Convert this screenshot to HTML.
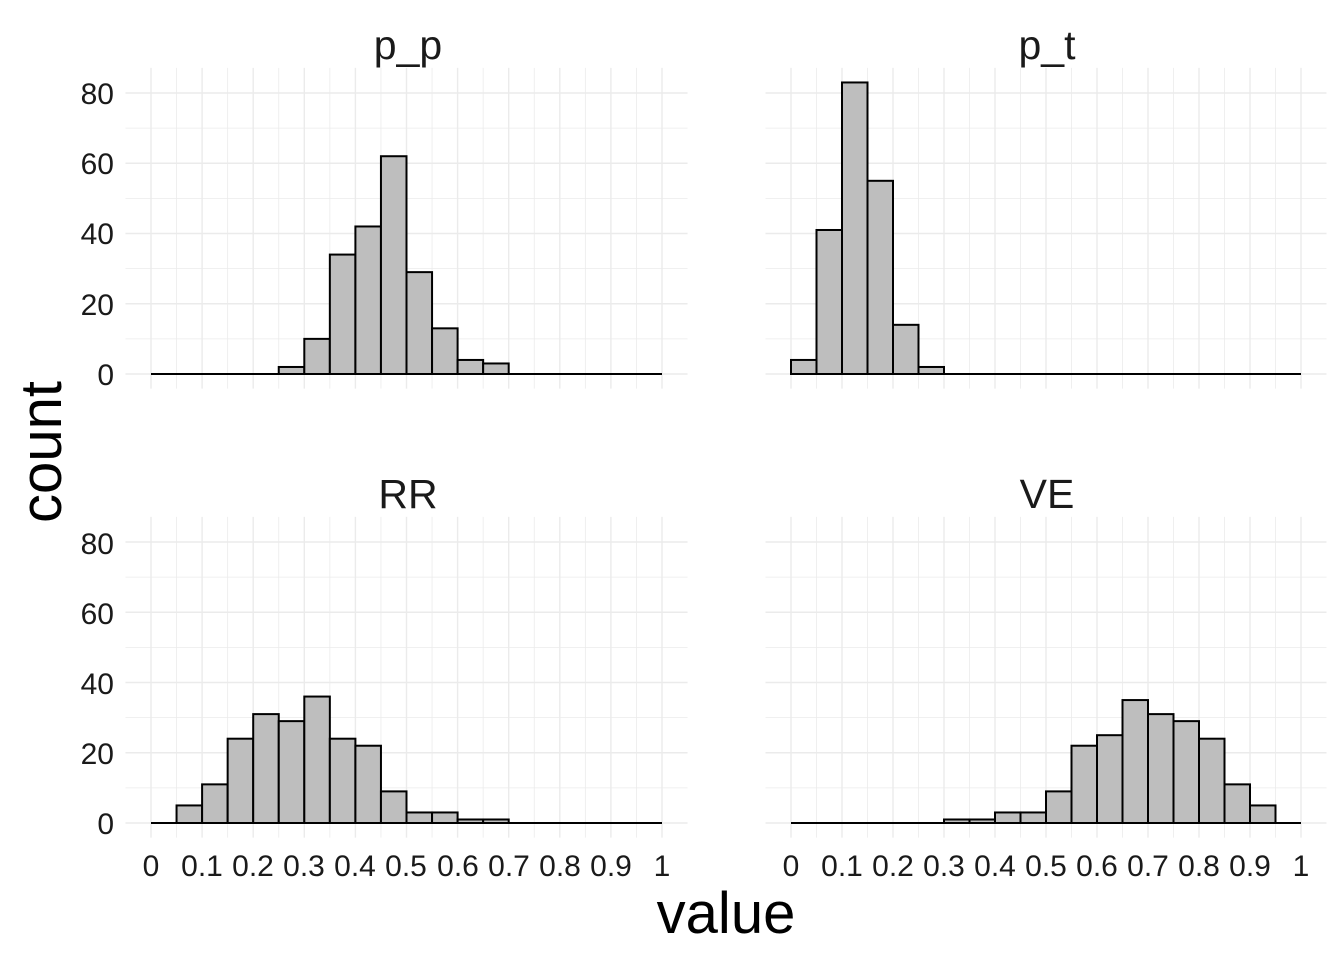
<!DOCTYPE html>
<html><head><style>
html,body{margin:0;padding:0;background:#fff;}
svg{display:block;font-family:"Liberation Sans",Arial,sans-serif;}
</style></head><body>
<svg id="s" width="1344" height="960" viewBox="0 0 1344 960" xmlns="http://www.w3.org/2000/svg">
<rect width="1344" height="960" fill="#fff"/>
<g id="grid"></g>
<g id="bars" fill="#bebebe" stroke="#000" stroke-width="2"></g>
<g font-size="30" fill="#1a1a1a" text-anchor="end">
<text x="114" y="104">80</text><text x="114" y="174">60</text><text x="114" y="244">40</text><text x="114" y="315">20</text><text x="114" y="385">0</text>
<text x="114" y="554">80</text><text x="114" y="624">60</text><text x="114" y="694">40</text><text x="114" y="764">20</text><text x="114" y="834">0</text>
</g>
<g font-size="30" fill="#1a1a1a" text-anchor="middle">
<text x="151" y="876">0</text>
<text x="202" y="876">0.1</text>
<text x="253" y="876">0.2</text>
<text x="304" y="876">0.3</text>
<text x="355" y="876">0.4</text>
<text x="406" y="876">0.5</text>
<text x="458" y="876">0.6</text>
<text x="509" y="876">0.7</text>
<text x="560" y="876">0.8</text>
<text x="611" y="876">0.9</text>
<text x="662" y="876">1</text>
<text x="791" y="876">0</text>
<text x="842" y="876">0.1</text>
<text x="893" y="876">0.2</text>
<text x="944" y="876">0.3</text>
<text x="995" y="876">0.4</text>
<text x="1046" y="876">0.5</text>
<text x="1097" y="876">0.6</text>
<text x="1148" y="876">0.7</text>
<text x="1199" y="876">0.8</text>
<text x="1250" y="876">0.9</text>
<text x="1301" y="876">1</text>
</g>
<g font-size="41" fill="#1a1a1a" text-anchor="middle">
<text x="408" y="59">p_p</text>
<text x="1047" y="59">p_t</text>
<text x="408" y="508">RR</text>
<text x="1047" y="508">VE</text>
</g>
<text x="726" y="933" font-size="58" fill="#000" text-anchor="middle">value</text>
<text transform="translate(61,452) rotate(-90)" font-size="58" fill="#000" text-anchor="middle">count</text>
</svg>
<script>
(function(){
var ns="http://www.w3.org/2000/svg",g=document.getElementById("grid"),b=document.getElementById("bars");
function el(p,tag,a){var e=document.createElementNS(ns,tag);for(var k in a)e.setAttribute(k,a[k]);p.appendChild(e);return e;}
var panels=[
 {x0:151,s:511,y0:374,d:[0,0,0,0,0,2,10,34,42,62,29,13,4,3,0,0,0,0,0,0]},
 {x0:791,s:510,y0:374,d:[4,41,83,55,14,2,0,0,0,0,0,0,0,0,0,0,0,0,0,0]},
 {x0:151,s:511,y0:823,d:[0,5,11,24,31,29,36,24,22,9,3,3,1,1,0,0,0,0,0,0]},
 {x0:791,s:510,y0:823,d:[0,0,0,0,0,0,1,1,3,3,9,22,25,35,31,29,24,11,5,0]}];
var k=3.5125;
panels.forEach(function(p){
 var L=p.x0-0.05*p.s,R=p.x0+1.05*p.s,T=p.y0-87.15*k,B=p.y0+4.15*k;
 for(var i=0;i<=8;i++){var y=p.y0-i*10*k;el(g,"line",{x1:L,x2:R,y1:y,y2:y,stroke:"#ebebeb","stroke-width":i%2?0.8:1.4});}
 for(var j=0;j<=20;j++){var x=p.x0+j*0.05*p.s;el(g,"line",{x1:x,x2:x,y1:T,y2:B,stroke:"#ebebeb","stroke-width":j%2?0.8:1.4});}
 var bw=p.s/20;
 p.d.forEach(function(c,i){var x=p.x0+i*bw,h=c*k;
  if(c>0)el(b,"rect",{x:x,y:p.y0-h,width:bw,height:h});});
 el(b,"line",{x1:p.x0,x2:p.x0+p.s,y1:p.y0,y2:p.y0});
});
})();
</script>
</body></html>
